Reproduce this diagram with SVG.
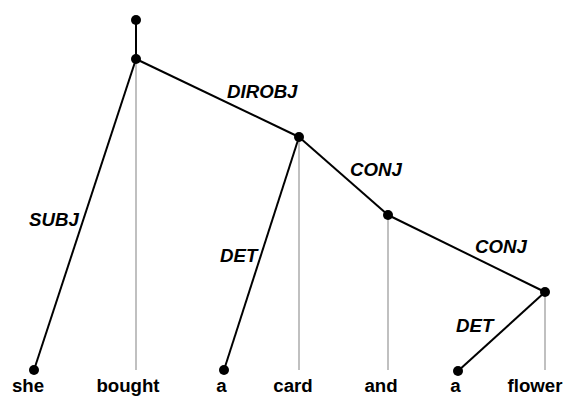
<svg xmlns="http://www.w3.org/2000/svg" width="564" height="396" viewBox="0 0 564 396">
<style>
.edge{stroke:#000;stroke-width:2;fill:none}
.proj{stroke:#c0c0c0;stroke-width:2;fill:none}
.dot{fill:#000}
.word{font-family:"Liberation Sans",Arial,sans-serif;font-weight:bold;font-size:18.67px;text-anchor:middle;fill:#000}
.lab{font-family:"Liberation Sans",Arial,sans-serif;font-weight:bold;font-style:italic;font-size:18.67px;fill:#000}
</style>
<rect width="564" height="396" fill="#fff"/>
<g id="projections">
<line class="proj" x1="136" y1="59" x2="136" y2="370"/>
<line class="proj" x1="299" y1="137" x2="299" y2="370"/>
<line class="proj" x1="388" y1="215" x2="388" y2="370"/>
<line class="proj" x1="545" y1="292" x2="545" y2="370"/>
</g>
<g id="connectors">
<line class="edge" x1="136" y1="20" x2="136" y2="59"/>
<line class="edge" x1="136" y1="59" x2="34" y2="370"/>
<line class="edge" x1="136" y1="59" x2="299" y2="137"/>
<line class="edge" x1="299" y1="137" x2="224" y2="370"/>
<line class="edge" x1="299" y1="137" x2="388" y2="215"/>
<line class="edge" x1="388" y1="215" x2="545" y2="292"/>
<line class="edge" x1="545" y1="292" x2="458" y2="371"/>
<text class="lab" x="29" y="226">SUBJ</text>
<text class="lab" x="227" y="98">DIROBJ</text>
<text class="lab" x="350" y="176">CONJ</text>
<text class="lab" x="475" y="253">CONJ</text>
<text class="lab" x="220" y="262">DET</text>
<text class="lab" x="456" y="332">DET</text>
</g>
<g id="root"><circle class="dot" cx="136" cy="20" r="5"/></g>
<g id="n-bought"><circle class="dot" cx="136" cy="59" r="5"/><text class="word" x="128" y="391.5">bought</text></g>
<g id="n-she"><circle class="dot" cx="34" cy="370" r="5"/><text class="word" x="28" y="391.5">she</text></g>
<g id="n-a1"><circle class="dot" cx="224" cy="370" r="5"/><text class="word" x="221.5" y="391.5">a</text></g>
<g id="n-card"><circle class="dot" cx="299" cy="137" r="5"/><text class="word" x="293" y="391.5">card</text></g>
<g id="n-and"><circle class="dot" cx="388" cy="215" r="5"/><text class="word" x="381" y="391.5">and</text></g>
<g id="n-a2"><circle class="dot" cx="458" cy="371" r="5"/><text class="word" x="455.5" y="391.5">a</text></g>
<g id="n-flower"><circle class="dot" cx="545" cy="292" r="5"/><text class="word" x="535" y="391.5">flower</text></g>
</svg>
